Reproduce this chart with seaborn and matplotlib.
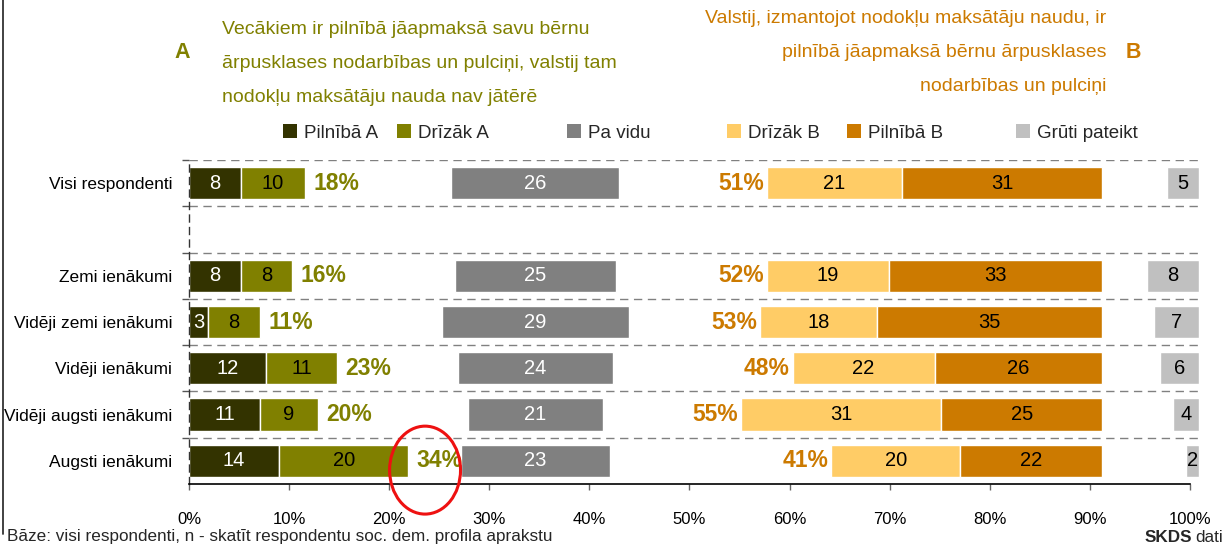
import matplotlib
matplotlib.use("Agg")
import matplotlib.pyplot as plt
from matplotlib.lines import Line2D
from matplotlib.patches import Ellipse, Patch
import numpy as np
import pandas as pd
import seaborn as sns

# values (percent of respondents)
categories = ["Visi respondenti", " ", "Zemi ienākumi", "Vidēji zemi ienākumi",
              "Vidēji ienākumi", "Vidēji augsti ienākumi", "Augsti ienākumi"]
pilniba_a = [8, 0, 8, 3, 12, 11, 14]
drizak_a = [10, 0, 8, 8, 11, 9, 20]
pa_vidu = [26, 0, 25, 29, 24, 21, 23]
drizak_b = [21, 0, 19, 18, 22, 31, 20]
pilniba_b = [31, 0, 33, 35, 26, 25, 22]
gruti = [5, 0, 8, 7, 6, 4, 2]
total_a = [18, None, 16, 11, 23, 20, 34]
total_b = [51, None, 52, 53, 48, 55, 41]
series_names = ["Pilnībā A", "Drīzāk A", "Pa vidu", "Drīzāk B", "Pilnībā B", "Grūti pateikt"]
tick_labels = [f"{v}%" for v in range(0, 101, 10)]

text_a = ("Vecākiem ir pilnībā jāapmaksā savu bērnu\n"
          "ārpusklases nodarbības un pulciņi, valstij tam\n"
          "nodokļu maksātāju nauda nav jātērē")
text_b = ("Valstij, izmantojot nodokļu maksātāju naudu, ir\n"
          "pilnībā jāapmaksā bērnu ārpusklases\n"
          "nodarbības un pulciņi")
footer = "Bāze: visi respondenti, n - skatīt respondentu soc. dem. profila aprakstu"

colors = ["#333300", "#808000", "#808080", "#FFCC66", "#CC7A00", "#C0C0C0"]
label_colors = ["white", "black", "white", "black", "black", "black"]
olive = "#808000"
orange = "#CC7A00"
legend_x = [283, 397, 567, 727, 847, 1016]  # left edge of each legend square, px

# layout of the 100% stacked bar (units along the value axis)
scale_end = 155.2   # the 100% mark
pv_center = 53.7
b_end = 141.6
g_end = 156.6

sns.set_theme(style="white")
plt.rcParams["font.family"] = ["Liberation Sans", "DejaVu Sans"]

df = pd.DataFrame({"cat": categories, "a1": pilniba_a, "a2": drizak_a, "pv": pa_vidu,
                   "b1": drizak_b, "b2": pilniba_b, "g": gruti})

segments = [
    (df["a1"], np.zeros(len(df))),
    (df["a2"], df["a1"]),
    (df["pv"], pv_center - df["pv"] / 2),
    (df["b1"], b_end - df["b1"] - df["b2"]),
    (df["b2"], b_end - df["b2"]),
    (df["g"], g_end - df["g"]),
]

fig = plt.figure(figsize=(12.27, 5.45), dpi=100)
ax = fig.add_axes([189 / 1227, 1 - 484 / 545, 1010 / 1227, 324 / 545])

for (vals, left), col, lcol in zip(segments, colors, label_colors):
    sns.barplot(x=vals.values, y=df["cat"], left=np.asarray(left, dtype=float), order=categories,
                orient="h", color=col, saturation=1, width=0.7, errorbar=None, ax=ax)
    labels = [str(v) if v > 0 else "" for v in vals]
    ax.bar_label(ax.containers[-1], labels=labels, label_type="center",
                 color=lcol, fontsize=14.5)

# totals beside the A and B groups
for i, (ta, tb) in enumerate(zip(total_a, total_b)):
    if ta is None:
        continue
    ax.text(df["a1"][i] + df["a2"][i] + 1.3, i, f"{ta}%", ha="left", va="center",
            color=olive, fontsize=16.5, fontweight="bold")
    ax.text(b_end - df["b1"][i] - df["b2"][i] - 0.5, i, f"{tb}%", ha="right", va="center",
            color=orange, fontsize=16.5, fontweight="bold")

ax.set_xlim(0, g_end)
ax.set_ylim(len(categories) - 0.5, -0.5)
ax.set_xticks(np.linspace(0, scale_end, 11))
ax.set_xticklabels(tick_labels)
ax.set_yticks(range(len(categories)))
ax.set_yticklabels(categories)
ax.set_yticks(np.arange(-0.5, len(categories) - 1, 1), minor=True)
ax.set_xlabel("")
ax.set_ylabel("")
ax.yaxis.grid(True, which="minor", linestyle=(0, (6, 4)), color="#808080", linewidth=1)
ax.xaxis.grid(False)
ax.set_axisbelow(True)

ax.tick_params(axis="y", which="major", length=0, pad=12, labelsize=12.5, labelcolor="black")
ax.tick_params(axis="y", which="minor", left=True, length=5, width=1, color="#555555")
ax.tick_params(axis="x", bottom=True, length=4.5, width=1, color="#666666", pad=16,
               labelsize=12, labelcolor="black")

for side in ["top", "right"]:
    ax.spines[side].set_visible(False)
ax.spines["bottom"].set_color("black")
ax.spines["bottom"].set_linewidth(1.2)
ax.spines["bottom"].set_bounds(0, scale_end)
ax.spines["left"].set_color("#333333")
ax.spines["left"].set_linewidth(1)
ax.spines["left"].set_linestyle((0, (5, 4)))

# red circle around the highest A total
ax.add_patch(Ellipse((36.6, 6.2), 11.0, 1.9, fill=False, edgecolor="#EE1111",
                     linewidth=2.2, clip_on=False, zorder=5))

for name, col, x in zip(series_names, colors, legend_x):
    fig.legend([Patch(facecolor=col, edgecolor="none")], [name], loc="center left",
               bbox_to_anchor=(x / 1227, 1 - 133 / 545), frameon=False, fontsize=13.5,
               handlelength=0.75, handleheight=0.75, handletextpad=0.35,
               borderpad=0, borderaxespad=0)

fig.text(182 / 1227, 1 - 53 / 545, "A", ha="center", va="center", color=olive,
         fontsize=15.5, fontweight="bold")
fig.text(1133 / 1227, 1 - 53 / 545, "B", ha="center", va="center", color=orange,
         fontsize=15.5, fontweight="bold")
fig.text(222 / 1227, 1 - 63.5 / 545, text_a, ha="left", va="center", color=olive,
         fontsize=14, linespacing=2.3)
fig.text(1106 / 1227, 1 - 52.5 / 545, text_b, ha="right", va="center", color=orange,
         fontsize=14, linespacing=2.3, multialignment="right")

fig.text(7 / 1227, 1 - 537 / 545, footer, ha="left", va="center", fontsize=12.3)
skds = fig.text(1145 / 1227, 1 - 537 / 545, "SKDS", ha="left", va="center", fontsize=12.3,
                fontweight="bold")
fig.add_artist(matplotlib.text.Annotation("dati", xy=(1, 0.5), xycoords=skds,
                                          xytext=(2, 0), textcoords="offset points",
                                          ha="left", va="center", fontsize=12.3))

fig.add_artist(Line2D([3 / 1227, 3 / 1227], [0.02, 1.0], color="#333333", linewidth=1.3))

fig.savefig("out.png", dpi=100)
